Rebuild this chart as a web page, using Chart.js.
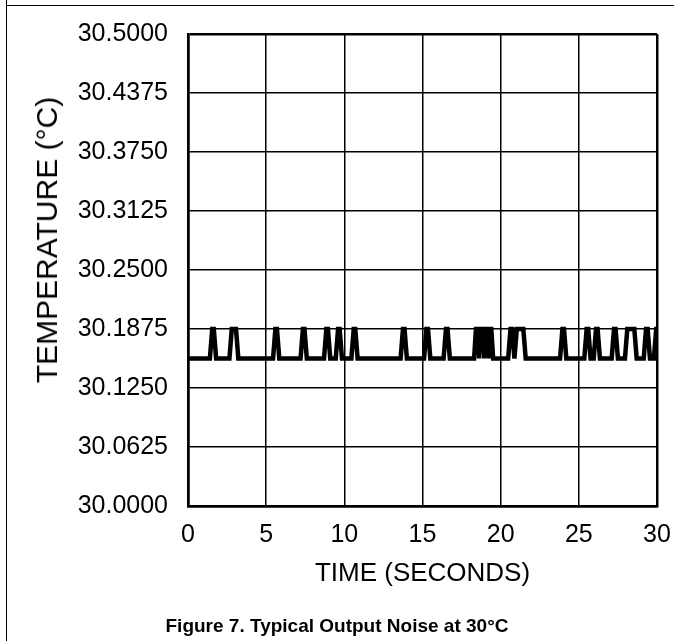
<!DOCTYPE html>
<html>
<head>
<meta charset="utf-8">
<script src="https://cdn.jsdelivr.net/npm/chart.js@4.4.1/dist/chart.umd.min.js"></script>
<style>
  html, body { margin: 0; padding: 0; background: #fff; }
  #wrap { position: relative; width: 674px; height: 641px; overflow: hidden; }
  #chart { position: absolute; left: 0; top: 0; }
  .rule-h { position: absolute; left: 6px; right: 0; top: 5px; border-top: 1.5px solid #000; }
  .rule-v { position: absolute; left: 6px; top: 0; bottom: 0; border-left: 1.5px solid #000; }
  #ytitle {
    position: absolute; left: 47px; top: 240px; white-space: nowrap; color: #000;
    font: 30px 'Liberation Sans', Arial, sans-serif;
    transform: translate(-50%, -50%) rotate(-90deg);
  }
  #caption {
    position: absolute; left: 0; width: 674px; top: 615px;
    text-align: center; color: #000;
    font: bold 19px 'Liberation Sans', Arial, sans-serif;
  }
</style>
</head>
<body>
<div id="wrap">
  <div class="rule-h"></div>
  <div class="rule-v"></div>
  <canvas id="chart" width="674" height="641"></canvas>
  <div id="ytitle">TEMPERATURE (°C)</div>
  <div id="caption">Figure 7. Typical Output Noise at 30°C</div>
</div>
<script>
// Readings (s, degC) - the sensor flips between two LSB levels
const timeSec = [
  0,
  1.4, 1.55, 1.65, 1.8,
  2.65, 2.8, 3.07, 3.22,
  5.44, 5.59, 5.69, 5.84,
  7.2, 7.35, 7.45, 7.6,
  8.7, 8.85, 8.95, 9.1,
  9.45, 9.6, 9.7, 9.85,
  10.45, 10.6, 10.7, 10.85,
  13.6, 13.75, 13.85, 14.0,
  15.1, 15.25, 15.35, 15.5,
  16.35, 16.5, 16.6, 16.75,
  18.3, 18.42, 18.54, 18.62, 18.7, 18.87, 18.95, 19.03, 19.17, 19.25, 19.33, 19.4, 19.52,
  20.48, 20.63, 20.73, 20.88, 21.03, 21.45, 21.6,
  23.8, 23.95, 24.05, 24.2,
  25.35, 25.5, 25.6, 25.75,
  25.95, 26.1, 26.2, 26.35,
  27.1, 27.25, 27.35, 27.5,
  27.95, 28.1, 28.55, 28.7,
  29.15, 29.3, 29.4, 29.55,
  29.8, 29.95, 30
];
const tempC = [
  30.15625,
  30.15625, 30.1875, 30.1875, 30.15625,
  30.15625, 30.1875, 30.1875, 30.15625,
  30.15625, 30.1875, 30.1875, 30.15625,
  30.15625, 30.1875, 30.1875, 30.15625,
  30.15625, 30.1875, 30.1875, 30.15625,
  30.15625, 30.1875, 30.1875, 30.15625,
  30.15625, 30.1875, 30.1875, 30.15625,
  30.15625, 30.1875, 30.1875, 30.15625,
  30.15625, 30.1875, 30.1875, 30.15625,
  30.15625, 30.1875, 30.1875, 30.15625,
  30.15625, 30.1875, 30.1875, 30.15625, 30.1875, 30.1875, 30.15625, 30.1875, 30.1875, 30.15625, 30.1875, 30.1875, 30.15625,
  30.15625, 30.1875, 30.1875, 30.15625, 30.1875, 30.1875, 30.15625,
  30.15625, 30.1875, 30.1875, 30.15625,
  30.15625, 30.1875, 30.1875, 30.15625,
  30.15625, 30.1875, 30.1875, 30.15625,
  30.15625, 30.1875, 30.1875, 30.15625,
  30.15625, 30.1875, 30.1875, 30.15625,
  30.15625, 30.1875, 30.1875, 30.15625,
  30.15625, 30.1875, 30.1875
];

const xTicks = [0, 5, 10, 15, 20, 25, 30];
const yTicks = [30, 30.0625, 30.125, 30.1875, 30.25, 30.3125, 30.375, 30.4375, 30.5];
const yTickLabels = ['30.0000', '30.0625', '30.1250', '30.1875', '30.2500',
                     '30.3125', '30.3750', '30.4375', '30.5000'];

const FONT = "'Liberation Sans', Arial, sans-serif";

const points = timeSec.map((t, i) => ({ x: t, y: tempC[i] }));

function edgeWidth(n) {
  return c => (c.index === 0 || c.index === n - 1) ? 2.5 : 1.5;
}

const ctx = document.getElementById('chart').getContext('2d');
new Chart(ctx, {
  type: 'line',
  data: {
    datasets: [{
      data: points,
      borderColor: '#000',
      borderWidth: 4.5,
      pointRadius: 0,
      tension: 0,
      fill: false
    }]
  },
  options: {
    responsive: false,
    animation: false,
    layout: { padding: { left: 0, top: 34, right: 17, bottom: 35 } },
    plugins: {
      legend: { display: false },
      tooltip: { enabled: false }
    },
    scales: {
      x: {
        type: 'linear',
        min: 0,
        max: 30,
        afterBuildTicks: s => { s.ticks = xTicks.map(v => ({ value: v })); },
        afterFit: s => {
          s.height = 100;
          // labels fit inside the layout padding, so drop the auto padding
          s.paddingLeft = 0;
          s.paddingRight = 0;
        },
        grid: { color: '#000', lineWidth: edgeWidth(xTicks.length), drawTicks: false },
        border: { color: '#000', width: 2.5 },
        ticks: {
          color: '#000', padding: 14, maxRotation: 0, autoSkip: false,
          font: { family: FONT, size: 25 },
          callback: v => String(v)
        },
        title: {
          display: true, text: 'TIME (SECONDS)', color: '#000',
          font: { family: FONT, size: 26 },
          padding: { top: 0, bottom: 17 }
        }
      },
      y: {
        type: 'linear',
        min: 30,
        max: 30.5,
        afterBuildTicks: s => { s.ticks = yTicks.map(v => ({ value: v })); },
        afterFit: s => {
          s.width = 188;
          s.paddingTop = 0;
          s.paddingBottom = 0;
        },
        grid: { color: '#000', lineWidth: edgeWidth(yTicks.length), drawTicks: false },
        border: { color: '#000', width: 2.5 },
        ticks: {
          color: '#000', padding: 20, autoSkip: false,
          font: { family: FONT, size: 25 },
          callback: (v, i) => yTickLabels[i]
        }
      }
    }
  }
});
</script>
</body>
</html>
